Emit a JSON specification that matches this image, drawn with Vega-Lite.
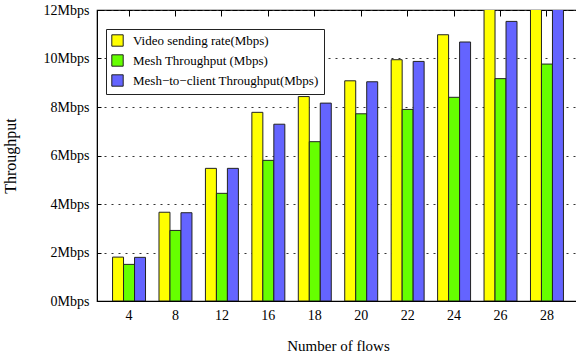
{
  "$schema": "https://vega.github.io/schema/vega-lite/v6.json",
  "autosize": {"type": "none"},
  "padding": {"left": 97, "top": 10, "right": 0, "bottom": 59},
  "width": 482,
  "height": 291,
  "background": "white",
  "config": {
    "font": "Liberation Serif",
    "view": {"stroke": "black", "strokeWidth": 1.2},
    "axis": {"labelFont": "Liberation Serif", "titleFont": "Liberation Serif", "labelFontSize": 14, "titleFontSize": 15, "titleFontWeight": "normal", "labelColor": "black", "titleColor": "black", "domainColor": "black", "tickColor": "black"}
  },
  "data": {"values": [
    {"flows": "4", "series": "Video sending rate(Mbps)", "v": 1.81},
    {"flows": "4", "series": " Mesh Throughput (Mbps)", "v": 1.51},
    {"flows": "4", "series": "Mesh−to−client Throughput(Mbps)", "v": 1.80},
    {"flows": "8", "series": "Video sending rate(Mbps)", "v": 3.66},
    {"flows": "8", "series": " Mesh Throughput (Mbps)", "v": 2.91},
    {"flows": "8", "series": "Mesh−to−client Throughput(Mbps)", "v": 3.64},
    {"flows": "12", "series": "Video sending rate(Mbps)", "v": 5.47},
    {"flows": "12", "series": " Mesh Throughput (Mbps)", "v": 4.44},
    {"flows": "12", "series": "Mesh−to−client Throughput(Mbps)", "v": 5.47},
    {"flows": "16", "series": "Video sending rate(Mbps)", "v": 7.78},
    {"flows": "16", "series": " Mesh Throughput (Mbps)", "v": 5.80},
    {"flows": "16", "series": "Mesh−to−client Throughput(Mbps)", "v": 7.29},
    {"flows": "18", "series": "Video sending rate(Mbps)", "v": 8.43},
    {"flows": "18", "series": " Mesh Throughput (Mbps)", "v": 6.57},
    {"flows": "18", "series": "Mesh−to−client Throughput(Mbps)", "v": 8.16},
    {"flows": "20", "series": "Video sending rate(Mbps)", "v": 9.08},
    {"flows": "20", "series": " Mesh Throughput (Mbps)", "v": 7.72},
    {"flows": "20", "series": "Mesh−to−client Throughput(Mbps)", "v": 9.04},
    {"flows": "22", "series": "Video sending rate(Mbps)", "v": 9.95},
    {"flows": "22", "series": " Mesh Throughput (Mbps)", "v": 7.90},
    {"flows": "22", "series": "Mesh−to−client Throughput(Mbps)", "v": 9.88},
    {"flows": "24", "series": "Video sending rate(Mbps)", "v": 10.98},
    {"flows": "24", "series": " Mesh Throughput (Mbps)", "v": 8.40},
    {"flows": "24", "series": "Mesh−to−client Throughput(Mbps)", "v": 10.68},
    {"flows": "26", "series": "Video sending rate(Mbps)", "v": 12.6},
    {"flows": "26", "series": " Mesh Throughput (Mbps)", "v": 9.17},
    {"flows": "26", "series": "Mesh−to−client Throughput(Mbps)", "v": 11.53},
    {"flows": "28", "series": "Video sending rate(Mbps)", "v": 13.0},
    {"flows": "28", "series": " Mesh Throughput (Mbps)", "v": 9.77},
    {"flows": "28", "series": "Mesh−to−client Throughput(Mbps)", "v": 12.4}
  ]},
  "resolve": {"axis": {"x": "independent"}},
  "layer": [
    {
      "mark": {"type": "bar", "clip": true, "stroke": "#222222", "strokeWidth": 1},
      "encoding": {
        "x": {
          "field": "flows", "type": "ordinal",
          "sort": ["4", "8", "12", "16", "18", "20", "22", "24", "26", "28"],
          "scale": {"paddingInner": 0.29, "paddingOuter": 0.335},
          "axis": {"orient": "bottom", "title": "Number of flows", "labelAngle": 0, "ticks": false, "labelPadding": 7, "titlePadding": 16}
        },
        "xOffset": {
          "field": "series",
          "sort": ["Video sending rate(Mbps)", " Mesh Throughput (Mbps)", "Mesh−to−client Throughput(Mbps)"],
          "scale": {"paddingInner": 0, "paddingOuter": 0}
        },
        "y": {
          "field": "v", "type": "quantitative",
          "scale": {"domain": [0, 12], "nice": false, "zero": true},
          "axis": {
            "title": "Throughput", "titleFontSize": 16, "values": [0, 2, 4, 6, 8, 10, 12],
            "labelExpr": "datum.value + 'Mbps'",
            "grid": true, "gridColor": "#333333", "gridDash": [2, 5], "gridWidth": 1,
            "tickSize": -4, "labelPadding": 12, "titlePadding": 25
          }
        },
        "color": {
          "field": "series", "type": "nominal",
          "sort": ["Video sending rate(Mbps)", " Mesh Throughput (Mbps)", "Mesh−to−client Throughput(Mbps)"],
          "scale": {"range": ["#ffff00", "#66ff00", "#6464ff"]},
          "legend": {
            "title": null, "orient": "none", "legendX": 9, "legendY": 19,
            "symbolType": "square", "symbolSize": 130, "symbolStrokeColor": "#222222", "symbolStrokeWidth": 1,
            "labelFont": "Liberation Serif", "labelFontSize": 13, "labelColor": "black",
            "strokeColor": "#222222", "padding": 5, "rowPadding": 3, "labelOffset": 9,
            "fillColor": "white", "labelLimit": 300
          }
        }
      }
    },
    {
      "mark": {"type": "tick", "opacity": 0},
      "encoding": {
        "x": {
          "field": "flows", "type": "ordinal",
          "sort": ["4", "8", "12", "16", "18", "20", "22", "24", "26", "28"],
          "axis": {"orient": "top", "title": null, "labels": false, "domain": false, "ticks": true, "tickSize": -6}
        }
      }
    }
  ]
}
